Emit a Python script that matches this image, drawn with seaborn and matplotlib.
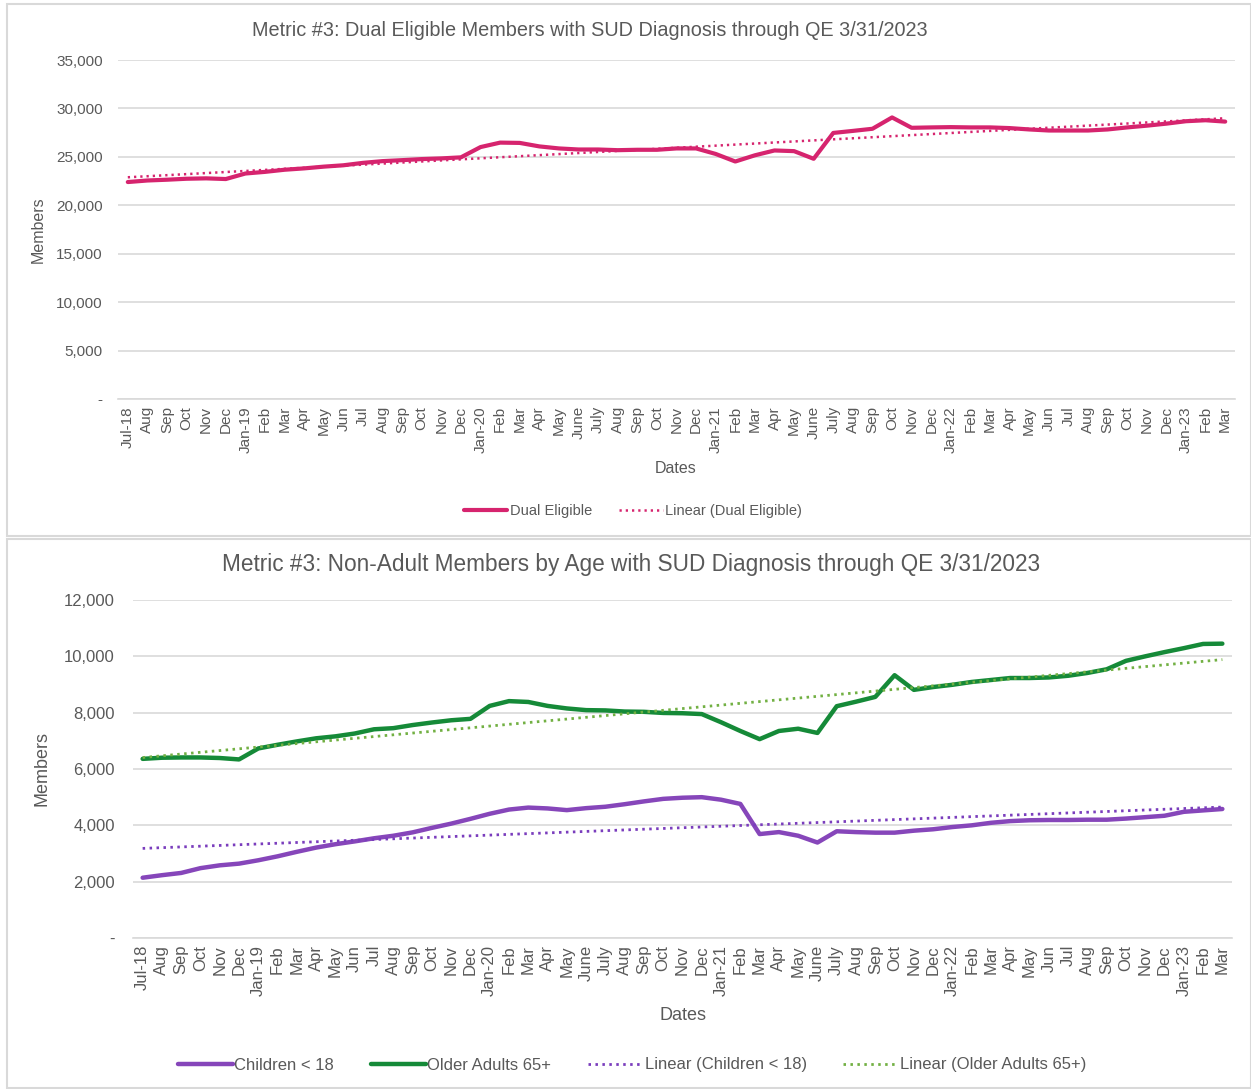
import numpy as np
import pandas as pd
import seaborn as sns
import matplotlib.pyplot as plt
from matplotlib.patches import Rectangle
from matplotlib.ticker import FuncFormatter, FixedLocator


# month labels as printed on the axis (Jul-18 .. Mar-23)
months=["Jul-18","Aug","Sep","Oct","Nov","Dec",
        "Jan-19","Feb","Mar","Apr","May","Jun","Jul","Aug","Sep","Oct","Nov","Dec",
        "Jan-20","Feb","Mar","Apr","May","June","July","Aug","Sep","Oct","Nov","Dec",
        "Jan-21","Feb","Mar","Apr","May","June","July","Aug","Sep","Oct","Nov","Dec",
        "Jan-22","Feb","Mar","Apr","May","Jun","Jul","Aug","Sep","Oct","Nov","Dec",
        "Jan-23","Feb","Mar"]

dual_eligible=[22400,22560,22640,22740,22780,22710,
               23280,23450,23670,23810,23990,24130,24380,24560,24660,24770,24840,24950,
               26010,26470,26440,26080,25870,25760,25760,25690,25730,25730,25870,25870,
               25300,24520,25160,25660,25590,24800,27470,27680,27900,29070,28000,28040,
               28070,28040,28040,27970,27830,27720,27720,27720,27830,28040,28220,28430,
               28680,28780,28640]

children=[2140,2230,2310,2480,2580,2640,
          2760,2900,3060,3210,3330,3430,3540,3630,3750,3910,4060,4230,
          4410,4560,4630,4600,4540,4610,4660,4750,4850,4940,4980,5000,
          4910,4760,3690,3760,3630,3390,3790,3760,3740,3740,3810,3860,
          3940,4000,4090,4150,4180,4190,4190,4200,4200,4240,4290,4340,
          4480,4530,4580]

older_adults=[6360,6400,6410,6410,6390,6340,
              6730,6860,6980,7090,7160,7260,7410,7450,7560,7650,7730,7780,
              8240,8410,8380,8240,8150,8090,8080,8040,8030,7990,7980,7950,
              7660,7350,7060,7350,7430,7280,8230,8390,8560,9330,8810,8910,
              8990,9090,9160,9230,9230,9250,9310,9410,9540,9840,10000,10150,
              10290,10440,10450]

PINK="#D6246E"
PURPLE="#8646BA"
PURPLE_DOT="#7A3DBD"
GREEN="#158A38"
GREEN_DOT="#72B043"
TEXT="#595959"
GRID="#D9D9D9"
DOTS=(0,(0.9,1.6))

W,H=1251,1089


def fx(px):
    return px/W


def fy(py):
    return 1-py/H


def style_axis(ax,ymax,ystep,tick_size,ypad):
    ax.set_xlim(-0.5,len(months)-0.5)
    ax.set_ylim(0,ymax)
    ax.set_yticks(np.arange(0,ymax+1,ystep))
    ax.yaxis.set_major_formatter(FuncFormatter(lambda v,p:"-" if v==0 else f"{v:,.0f}"))
    ax.set_xticks(range(len(months)))
    ax.set_xticklabels(months,rotation=90)
    ax.xaxis.set_minor_locator(FixedLocator(np.arange(-0.5,len(months),1.0)))
    ax.tick_params(axis="x",which="major",length=0,pad=5,labelsize=tick_size,colors=TEXT)
    ax.tick_params(axis="x",which="minor",length=5,color=GRID,width=1)
    ax.tick_params(axis="y",length=0,pad=ypad,labelsize=tick_size,colors=TEXT)
    ax.grid(axis="y",color=GRID,linewidth=1.2)
    ax.grid(axis="x",visible=False)
    for s in ["left","right","top"]:
        ax.spines[s].set_visible(False)
    ax.spines["bottom"].set_color(GRID)
    ax.spines["bottom"].set_linewidth(1.2)
    ax.set_xlabel("")
    ax.set_ylabel("")


sns.set_theme(style="white")
plt.rcParams["font.family"]=["Liberation Sans","DejaVu Sans"]

fig=plt.figure(figsize=(W/100,H/100),dpi=100)

# panel frames
fig.add_artist(Rectangle((fx(7),fy(536)),fx(1251-7),536/H-4/H,transform=fig.transFigure,
                         fill=False,edgecolor=GRID,linewidth=1.5))
fig.add_artist(Rectangle((fx(7),fy(1088)),fx(1251-7),(1088-539)/H,transform=fig.transFigure,
                         fill=False,edgecolor=GRID,linewidth=1.5))

x=np.arange(len(months))

# top chart
ax1=fig.add_axes([fx(118),fy(399),fx(1235-118),339/H])
df1=pd.DataFrame({"x":x,"y":dual_eligible})
sns.lineplot(data=df1,x="x",y="y",ax=ax1,color=PINK,linewidth=3,label="Dual Eligible")
sns.regplot(data=df1,x="x",y="y",ax=ax1,scatter=False,ci=None,truncate=True,
            line_kws=dict(color=PINK,linewidth=1.8,linestyle=DOTS))
style_axis(ax1,35000,5000,11,11)
if ax1.legend_:
    ax1.legend_.remove()
fig.legend(handles=ax1.get_lines()[:2],labels=["Dual Eligible","Linear (Dual Eligible)"],
           loc="center",bbox_to_anchor=(fx(633),fy(511)),ncol=2,frameon=False,
           fontsize=10.5,labelcolor=TEXT,handlelength=3,handletextpad=0.2,columnspacing=1.8)

fig.text(fx(590),fy(30),"Metric #3: Dual Eligible Members with SUD Diagnosis through QE 3/31/2023",
         ha="center",va="center",fontsize=14.3,color=TEXT)
fig.text(fx(38),fy(230),"Members",rotation=90,ha="center",va="center",fontsize=11.5,color=TEXT)
fig.text(fx(676),fy(469),"Dates",ha="center",va="center",fontsize=11.5,color=TEXT)

# bottom chart
ax2=fig.add_axes([fx(133),fy(938),fx(1232-133),338/H])
df2=pd.DataFrame({"x":x,"children":children,"older":older_adults})
sns.lineplot(data=df2,x="x",y="children",ax=ax2,color=PURPLE,linewidth=3.2,label="Children < 18")
sns.lineplot(data=df2,x="x",y="older",ax=ax2,color=GREEN,linewidth=3.2,label="Older Adults 65+")
sns.regplot(data=df2,x="x",y="children",ax=ax2,scatter=False,ci=None,truncate=True,
            line_kws=dict(color=PURPLE_DOT,linewidth=2,linestyle=DOTS))
sns.regplot(data=df2,x="x",y="older",ax=ax2,scatter=False,ci=None,truncate=True,
            line_kws=dict(color=GREEN_DOT,linewidth=2,linestyle=DOTS))
style_axis(ax2,12000,2000,12,13)
if ax2.legend_:
    ax2.legend_.remove()
fig.legend(handles=ax2.get_lines()[:4],
           labels=["Children < 18","Older Adults 65+","Linear (Children < 18)","Linear (Older Adults 65+)"],
           loc="center",bbox_to_anchor=(fx(632),fy(1065)),ncol=4,frameon=False,
           fontsize=12,labelcolor=TEXT,handlelength=3.3,handletextpad=0.1,columnspacing=2.2)

fig.text(fx(631),fy(565),"Metric #3: Non-Adult Members by Age with SUD Diagnosis through QE 3/31/2023",
         ha="center",va="center",fontsize=16.3,color=TEXT)
fig.text(fx(42),fy(768),"Members",rotation=90,ha="center",va="center",fontsize=13,color=TEXT)
fig.text(fx(683),fy(1016),"Dates",ha="center",va="center",fontsize=13,color=TEXT)

fig.savefig("out.png",dpi=100,facecolor="white")
